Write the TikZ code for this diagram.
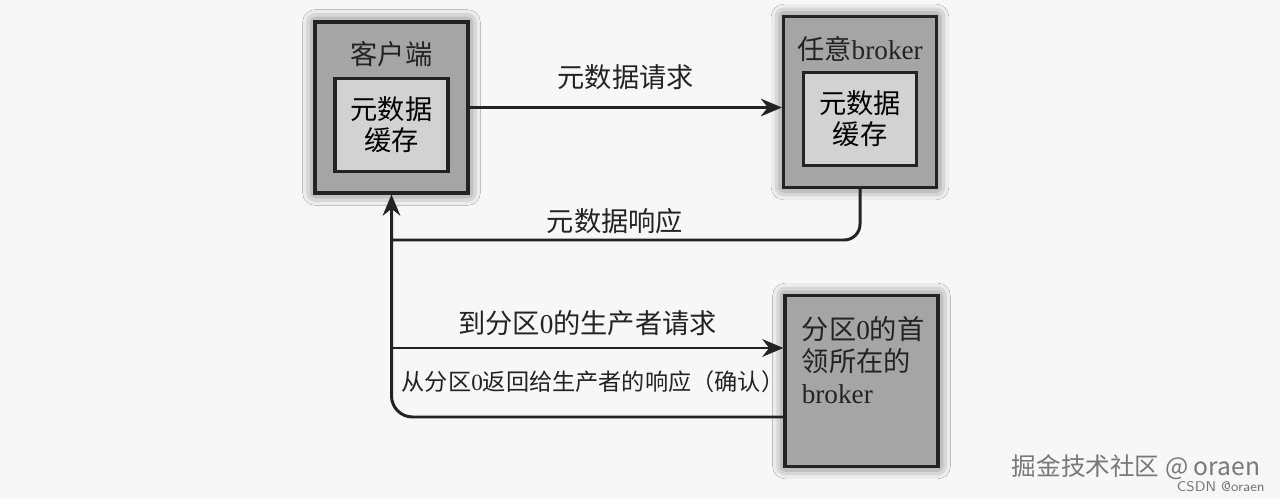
\documentclass[tikz,border=0pt]{standalone}
\usepackage{fontspec}
\setmainfont{Liberation Serif}
\newfontfamily\cjk{Noto Sans CJK SC}
\usepackage{xcolor}
\usepackage{tikz}
\usetikzlibrary{arrows.meta, positioning, shadows.blur}
\definecolor{boxdark}{RGB}{35, 35, 35}
\definecolor{outergrey}{RGB}{165, 165, 165}
\definecolor{innergrey}{RGB}{210, 210, 210}
\definecolor{paper}{RGB}{247, 247, 247}
\definecolor{markgrey}{RGB}{120, 120, 120}

\begin{document}
\begin{tikzpicture}[
    x=0.02cm, y=-0.02cm,
    outer/.style={rectangle, draw=boxdark, line width=1.8pt, fill=outergrey, minimum width=3.06cm, minimum height=3.42cm,
        blur shadow={shadow xshift=0pt, shadow yshift=0pt, shadow blur radius=7pt, shadow opacity=70}},
    inner/.style={rectangle, draw=boxdark, line width=1.8pt, fill=innergrey, minimum width=2.26cm, minimum height=1.86cm,
        align=center, font=\fontsize{15.5}{17.5}\selectfont\cjk},
    lbl/.style={font=\fontsize{15.5}{18}\selectfont, text=boxdark, inner sep=0pt},
    line/.style={line width=1.7pt, boxdark},
    arrow/.style={line, -{Stealth[length=12pt, width=10pt]}}
]
    \useasboundingbox[fill=paper] (0,0) rectangle (1280,499);

    % Boxes
    \node[outer] (client) at (391.5,107.5) {};
    \node[inner] (clientcache) at (391.5,125) {元数据\\缓存};
    \node[lbl, below=0.42cm of client.north] (clienttitle) {\cjk 客户端};

    \node[outer] (anybroker) at (860,102) {};
    \node[inner] (brokercache) at (860,119) {元数据\\缓存};
    \node[lbl, below=0.42cm of anybroker.north] (brokertitle) {{\cjk 任意}broker};

    \node[outer] (leader) at (861.5,381) {};
    \node[lbl, anchor=north west, align=left, font=\fontsize{15.5}{18.4}\selectfont]
        (leadertext) at ([xshift=0.36cm, yshift=-0.44cm]leader.north west)
        {{\cjk 分区}0{\cjk 的首}\\{\cjk 领所在的}\\broker};

    % Junction points on the left return line
    \coordinate (respjoin) at (client.south |- 0,240);
    \coordinate (reqstart) at (client.south |- 0,348);
    \coordinate (ackend) at (leader.west |- 0,417);

    % Metadata request and response
    \draw[arrow] (client.east) -- node[lbl, above=9pt] (reqlabel) {\cjk 元数据请求} (client.east -| anybroker.west);
    \draw[line, rounded corners=9pt] (anybroker.south) |- (respjoin);
    \node[lbl] (resplabel) at (615,221) {\cjk 元数据响应};

    % Produce request and acknowledgement
    \draw[arrow] (reqstart) -- node[lbl, above=6pt] (prodlabel) {{\cjk 到分区}0{\cjk 的生产者请求}} (reqstart -| leader.west);
    \draw[arrow, rounded corners=12pt] (ackend) -| (client.south);
    \node[lbl, font=\fontsize{13.2}{16}\selectfont] (acklabel) at (593,382)
        {{\cjk 从分区}0{\cjk 返回给生产者的响应（确认）}};

    % Watermark
    \node[font=\fontsize{14}{16}\selectfont\cjk, text=markgrey, inner sep=0pt] (mark) at (1136,467) {掘金技术社区 @ oraen};
    \node[font=\fontsize{8}{9}\selectfont\sffamily, text=markgrey, inner sep=0pt, anchor=east] (csdn) at (1265,487) {CSDN @oraen};
\end{tikzpicture}
\end{document}
